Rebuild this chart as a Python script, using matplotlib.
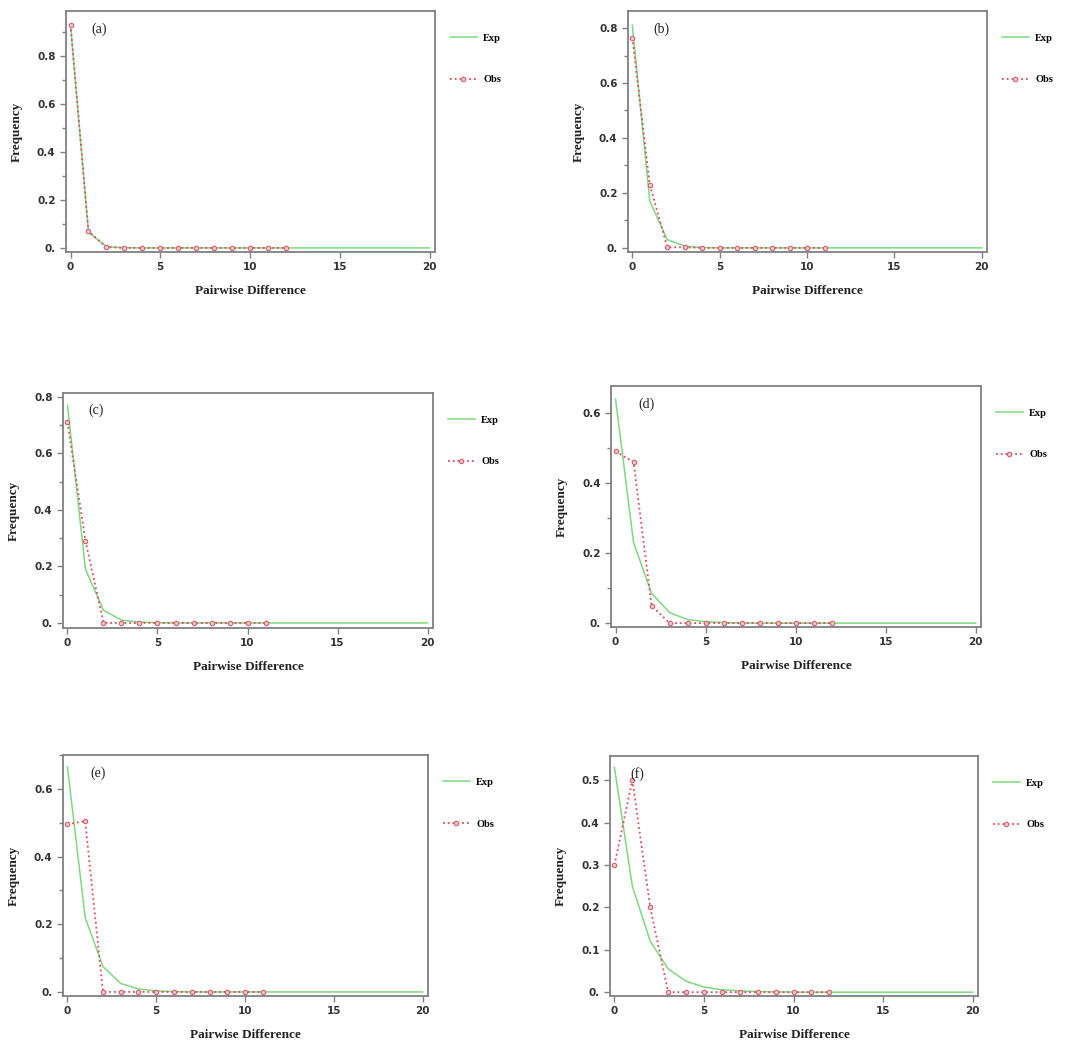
import numpy as np
import matplotlib.pyplot as plt
from matplotlib.ticker import FuncFormatter, MultipleLocator

# pairwise difference classes
x_exp = list(range(21))

a_exp = [0.93, 0.065, 0.005, 0.001, 0, 0, 0, 0, 0, 0, 0, 0, 0, 0, 0, 0, 0, 0, 0, 0, 0]
a_obs = [0.93, 0.07, 0.003, 0, 0, 0, 0, 0, 0, 0, 0, 0, 0]

b_exp = [0.81, 0.17, 0.03, 0.006, 0.001, 0, 0, 0, 0, 0, 0, 0, 0, 0, 0, 0, 0, 0, 0, 0, 0]
b_obs = [0.765, 0.23, 0.002, 0.002, 0, 0, 0, 0, 0, 0, 0, 0]

c_exp = [0.77, 0.19, 0.045, 0.01, 0.003, 0.001, 0, 0, 0, 0, 0, 0, 0, 0, 0, 0, 0, 0, 0, 0, 0]
c_obs = [0.71, 0.29, 0.0, 0, 0, 0, 0, 0, 0, 0, 0, 0]

d_exp = [0.64, 0.23, 0.085, 0.03, 0.01, 0.004, 0.0015, 0.0005, 0, 0, 0, 0, 0, 0, 0, 0, 0, 0, 0, 0, 0]
d_obs = [0.49, 0.46, 0.05, 0.0, 0, 0, 0, 0, 0, 0, 0, 0, 0]

e_exp = [0.665, 0.22, 0.075, 0.025, 0.009, 0.003, 0.001, 0, 0, 0, 0, 0, 0, 0, 0, 0, 0, 0, 0, 0, 0]
e_obs = [0.495, 0.505, 0.0, 0, 0, 0, 0, 0, 0, 0, 0, 0]

f_exp = [0.53, 0.25, 0.12, 0.055, 0.026, 0.012, 0.006, 0.003, 0.0015, 0.0007, 0.0003, 0, 0, 0, 0, 0, 0, 0, 0, 0, 0]
f_obs = [0.30, 0.50, 0.20, 0.0, 0, 0, 0, 0, 0, 0, 0, 0, 0]

labels = ['(a)', '(b)', '(c)', '(d)', '(e)', '(f)']

# axes placement and y ranges
panels = [
    (a_exp, a_obs, [0.0609, 0.7591, 0.3404, 0.2304], (-0.017, 0.9875), 0.2, 0.07),
    (b_exp, b_obs, [0.5793, 0.7591, 0.3312, 0.2304], (-0.015, 0.862), 0.2, 0.07),
    (c_exp, c_obs, [0.0581, 0.3996, 0.3413, 0.2247], (-0.018, 0.814), 0.2, 0.068),
    (d_exp, d_obs, [0.5637, 0.4006, 0.3413, 0.2304], (-0.011, 0.677), 0.2, 0.073),
    (e_exp, e_obs, [0.0581, 0.0478, 0.3367, 0.2304], (-0.012, 0.70), 0.2, 0.074),
    (f_exp, f_obs, [0.5627, 0.0478, 0.3395, 0.2294], (-0.009, 0.557), 0.1, 0.055),
]

exp_color = '#7fd87f'
obs_color = '#e04a5a'
frame_color = '#808080'

fig = plt.figure(figsize=(10.84, 10.46), dpi=100)


def ytick_fmt(v, pos):
    if abs(v) < 1e-9:
        return '0.'
    return '%.1f' % v


for i, (exp, obs, rect, ylim, step, lx) in enumerate(panels):
    ax = fig.add_axes(rect)
    ax.plot(x_exp, exp, color=exp_color, linewidth=1.1, label='Exp')
    ax.plot(list(range(len(obs))), obs, color=obs_color, linestyle=':', linewidth=1.3,
            marker='o', markersize=3.2, markerfacecolor='#f4c8c8',
            markeredgecolor='#d06070', markeredgewidth=0.8, label='Obs')

    ax.set_xlim(-0.25, 20.3)
    ax.set_ylim(*ylim)
    ax.set_xticks([0, 5, 10, 15, 20])
    ax.yaxis.set_major_locator(MultipleLocator(step))
    if step == 0.2:
        ax.yaxis.set_minor_locator(MultipleLocator(0.1))
    ax.yaxis.set_major_formatter(FuncFormatter(ytick_fmt))

    for s in ax.spines.values():
        s.set_color(frame_color)
        s.set_linewidth(1.3)
    ax.tick_params(axis='both', which='both', direction='out', color=frame_color,
                   length=4, width=1, labelsize=7.5, labelcolor='#333333')
    ax.tick_params(axis='both', which='minor', length=3)
    for t in ax.get_xticklabels() + ax.get_yticklabels():
        t.set_fontweight('bold')

    ax.set_xlabel('Pairwise Difference', fontfamily='Liberation Serif',
                  fontweight='bold', fontsize=9.5, labelpad=9, color='#222222')
    ax.set_ylabel('Frequency', fontfamily='Liberation Serif',
                  fontweight='bold', fontsize=9.5, labelpad=10, color='#222222')

    ax.text(lx, 0.925, labels[i], transform=ax.transAxes, fontfamily='Liberation Serif',
            fontsize=10, va='center', ha='left', color='#222222')

    leg = ax.legend(loc='upper left', bbox_to_anchor=(1.015, 0.945), frameon=False,
                    fontsize=7.5, handlelength=2.6, labelspacing=3.1, handletextpad=0.6)
    for t in leg.get_texts():
        t.set_fontweight('bold')
        t.set_fontfamily('Liberation Serif')

fig.savefig('out.png', dpi=100)
